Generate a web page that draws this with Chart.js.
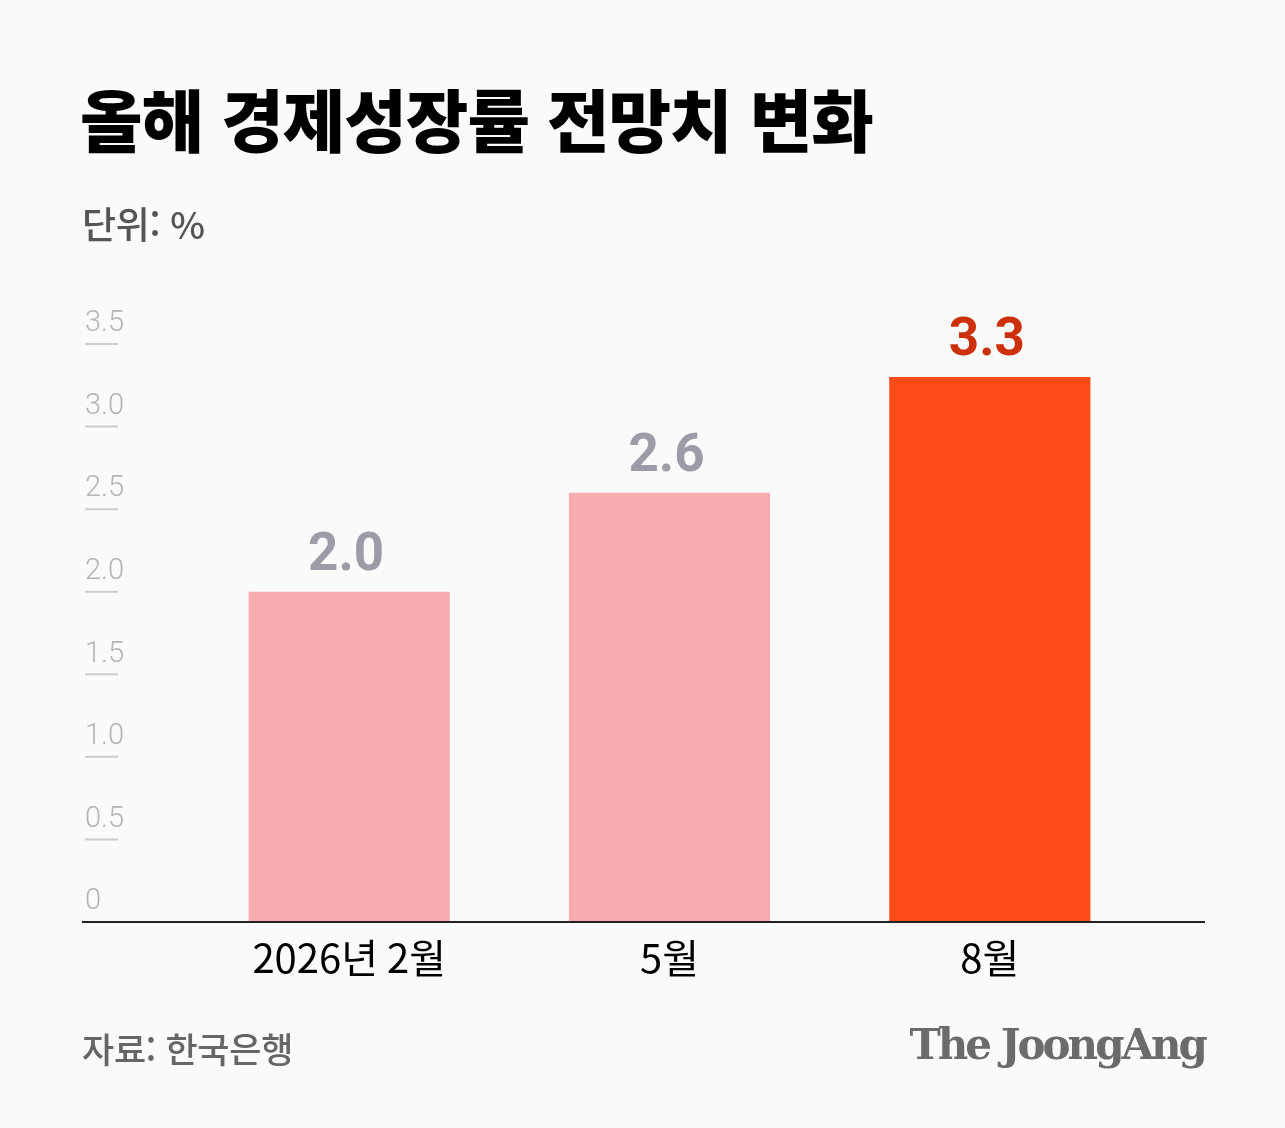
<!DOCTYPE html>
<html lang="ko">
<head>
    <meta charset="UTF-8">
    <title>올해 경제성장률 전망치 변화</title>
    <script src="https://cdn.jsdelivr.net/npm/chart.js"></script>
    <style>
        html, body {
            margin: 0;
            padding: 0;
            width: 1285px;
            height: 1128px;
            overflow: hidden;
            background: #fafafa;
            font-family: "Noto Sans CJK KR", "Noto Sans", sans-serif;
        }
        .wrap {
            position: relative;
            width: 1285px;
            height: 1128px;
        }
        canvas {
            position: absolute;
            left: 0;
            top: 0;
        }
        .title {
            position: absolute;
            left: 80px;
            top: 68px;
            margin: 0;
            font-size: 68px;
            font-weight: 900;
            letter-spacing: -1px;
            color: #000;
            white-space: nowrap;
        }
        .unit {
            position: absolute;
            left: 82px;
            top: 196px;
            font-size: 37px;
            font-weight: 500;
            letter-spacing: -0.3px;
            color: #555;
        }
        .source {
            position: absolute;
            left: 82px;
            top: 1022px;
            font-size: 35px;
            font-weight: 500;
            letter-spacing: -0.3px;
            color: #666;
        }
        .logo {
            position: absolute;
            right: 80px;
            top: 1020px;
            font-family: "DejaVu Serif", serif;
            font-weight: bold;
            font-size: 42px;
            letter-spacing: -3px;
            color: #6b6b6b;
        }
    </style>
</head>
<body>
<div class="wrap">
    <canvas id="chart" width="1285" height="1128"></canvas>
    <h1 class="title">올해 경제성장률 전망치 변화</h1>
    <div class="unit">단위: %</div>
    <div class="source">자료: 한국은행</div>
    <div class="logo">The JoongAng</div>
</div>

<script>
    // data
    const labels = ['2026년 2월', '5월', '8월'];
    const growth = [2.0, 2.6, 3.3];
    const yTicks = [0, 0.5, 1.0, 1.5, 2.0, 2.5, 3.0, 3.5];

    const barColors = ['#f9acb0', '#f9acb0', '#ff4b18'];
    const valueColors = ['#9c9ca8', '#9c9ca8', '#cc310b'];

    // short grey dashes under each y tick label, plus the dark base line
    const axisMarks = {
        id: 'axisMarks',
        afterDraw(chart) {
            const ctx = chart.ctx;
            const y = chart.scales.y;
            ctx.save();
            ctx.strokeStyle = '#cccccc';
            ctx.lineWidth = 2;
            yTicks.forEach(v => {
                if (v === 0) return;
                const py = y.getPixelForValue(v);
                ctx.beginPath();
                ctx.moveTo(85, py);
                ctx.lineTo(118, py);
                ctx.stroke();
            });
            ctx.strokeStyle = '#222';
            ctx.lineWidth = 2;
            const by = y.getPixelForValue(0);
            ctx.beginPath();
            ctx.moveTo(82, by);
            ctx.lineTo(1205, by);
            ctx.stroke();
            ctx.restore();
        }
    };

    // value labels above bars
    const valueLabels = {
        id: 'valueLabels',
        afterDatasetsDraw(chart) {
            const ctx = chart.ctx;
            const meta = chart.getDatasetMeta(0);
            ctx.save();
            ctx.font = 'bold 53px Roboto, "Noto Sans", sans-serif';
            ctx.textAlign = 'center';
            ctx.textBaseline = 'alphabetic';
            meta.data.forEach((bar, i) => {
                ctx.fillStyle = valueColors[i];
                ctx.fillText(growth[i].toFixed(1), bar.x - 3, bar.y - 22);
            });
            ctx.restore();
        }
    };

    new Chart(document.getElementById('chart'), {
        type: 'bar',
        data: {
            labels: labels,
            datasets: [{
                data: growth,
                backgroundColor: barColors,
                borderWidth: 0,
                categoryPercentage: 1,
                barPercentage: 0.628
            }]
        },
        options: {
            responsive: false,
            animation: false,
            layout: {
                padding: { left: 85, right: 135, top: 344, bottom: 0 }
            },
            plugins: {
                legend: { display: false },
                tooltip: { enabled: false }
            },
            scales: {
                x: {
                    grid: { display: false, drawTicks: false },
                    border: { display: false },
                    ticks: {
                        color: '#000',
                        padding: 12,
                        font: { family: '"Noto Sans CJK KR", sans-serif', size: 40 }
                    },
                    afterFit(s) { s.height = 206; }
                },
                y: {
                    min: 0,
                    max: 3.5,
                    grid: { display: false, drawTicks: false },
                    border: { display: false },
                    afterBuildTicks(s) {
                        s.ticks = yTicks.map(v => ({ value: v }));
                    },
                    ticks: {
                        color: '#b4b4b4',
                        crossAlign: 'far',
                        labelOffset: -20,
                        font: { family: 'Roboto, sans-serif', size: 29, weight: 300 },
                        callback: v => v === 0 ? '0' : v.toFixed(1)
                    },
                    afterFit(s) { s.width = 104; }
                }
            }
        },
        plugins: [axisMarks, valueLabels]
    });
</script>
</body>
</html>
